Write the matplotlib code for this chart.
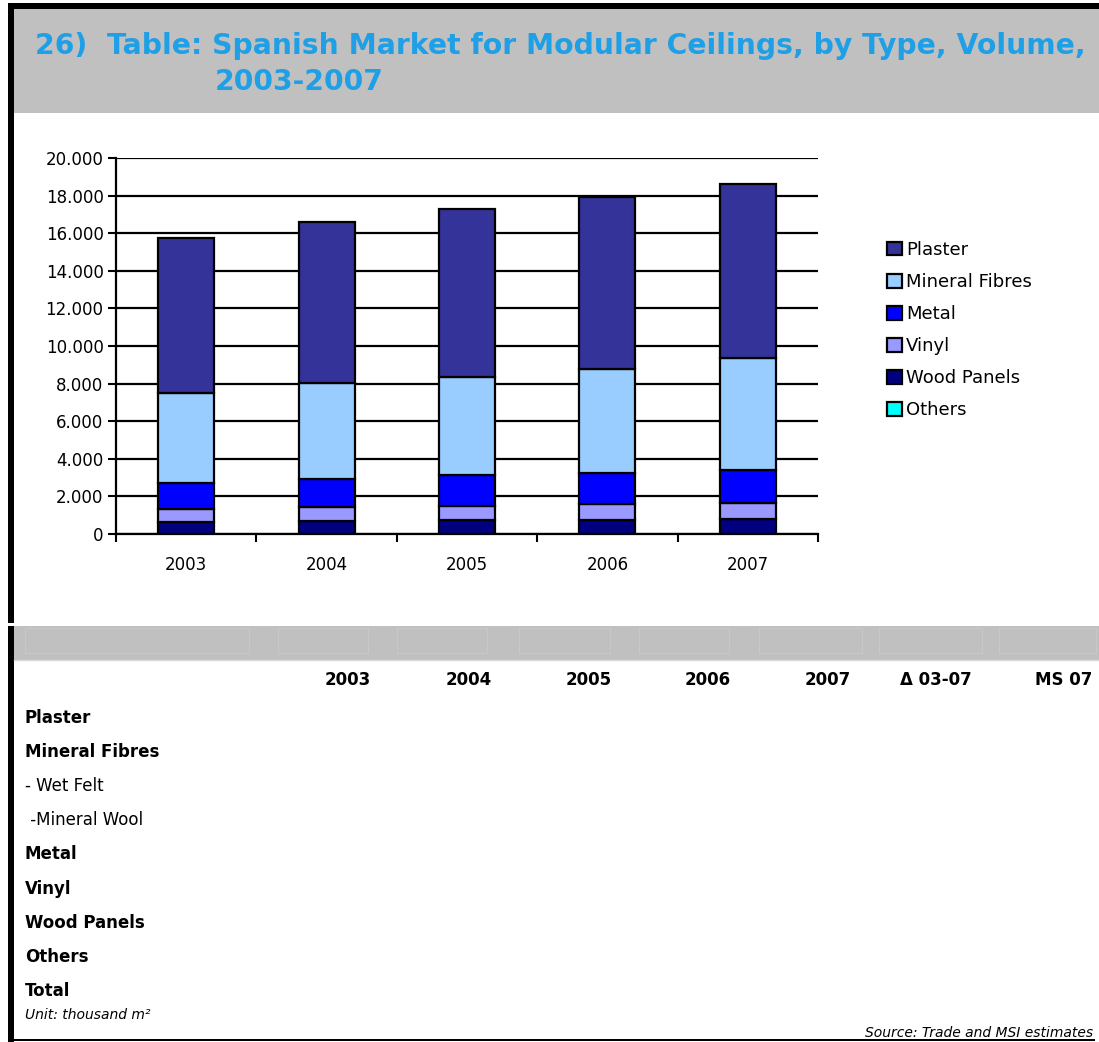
import matplotlib.pyplot as plt
import matplotlib as mpl
from matplotlib.patches import Rectangle
import numpy as np

mpl.rcParams['font.family'] = ['DejaVu Sans']

# data (thousand m2)
years = ['2003', '2004', '2005', '2006', '2007']
others = [0, 0, 0, 0, 0]
wood_panels = [630, 690, 720, 760, 790]
vinyl = [720, 740, 790, 810, 850]
metal = [1350, 1510, 1620, 1690, 1790]
mineral_fibres = [4800, 5090, 5220, 5520, 5930]
plaster = [8230, 8560, 8930, 9170, 9280]

series = [('Others', others, '#00FFFF'),
          ('Wood Panels', wood_panels, '#000080'),
          ('Vinyl', vinyl, '#9999FF'),
          ('Metal', metal, '#0000FF'),
          ('Mineral Fibres', mineral_fibres, '#99CCFF'),
          ('Plaster', plaster, '#333399')]

table_cols = ['2003', '2004', '2005', '2006', '2007', '\u0394 03-07', 'MS 07']
table_rows = ['Plaster', 'Mineral Fibres', '- Wet Felt', ' -Mineral Wool', 'Metal',
              'Vinyl', 'Wood Panels', 'Others', 'Total']
bold_rows = [True, True, False, False, True, True, True, True, True]

W, H = 1099, 1042
fig = plt.figure(figsize=(W / 100, H / 100), dpi=100)

# background layer in pixel coordinates
bg = fig.add_axes([0, 0, 1, 1])
bg.set_xlim(0, W)
bg.set_ylim(H, 0)
bg.axis('off')

bg.add_patch(Rectangle((8, 3), W - 8, 6, color='black', lw=0))
bg.add_patch(Rectangle((8, 3), 6, 620, color='black', lw=0))
bg.add_patch(Rectangle((8, 626), 6, H - 626, color='black', lw=0))
bg.add_patch(Rectangle((8, 1039), 1087, 2, color='black', lw=0))
bg.add_patch(Rectangle((14, 9), W - 14, 104, color='#C0C0C0', lw=0))

title_color = '#1F9FE5'
bg.text(35, 46, '26)  Table: Spanish Market for Modular Ceilings, by Type, Volume,',
        fontsize=20.3, fontweight='bold', color=title_color, va='center', ha='left')
bg.text(215, 82, '2003-2007', fontsize=20.3, fontweight='bold', color=title_color,
        va='center', ha='left')

# table header band
bg.add_patch(Rectangle((14, 626), W - 14, 34, color='#C0C0C0', lw=0))
cell_edges = [25, 252, 278, 371, 397, 490, 519, 613, 639, 732, 759, 865, 879, 985, 999, W]
for i in range(0, len(cell_edges) - 1, 2):
    bg.add_patch(Rectangle((cell_edges[i], 628), cell_edges[i + 1] - cell_edges[i] - 3, 25,
                           fill=False, ec='#CACACA', lw=0.6))
bg.plot([14, W], [660, 660], color='#D8D8D8', lw=1)

col_right = [371, 492, 612, 731, 851, 972, 1092]
for x, c in zip(col_right, table_cols):
    bg.text(x, 680, c, fontsize=12, fontweight='bold', ha='right', va='center')

for i, (r, b) in enumerate(zip(table_rows, bold_rows)):
    bg.text(25, 718 + i * 34.1, r, fontsize=12, fontweight='bold' if b else 'normal',
            ha='left', va='center')

bg.text(25, 1015, 'Unit: thousand m\u00b2', fontsize=10, style='italic', ha='left', va='center')
bg.text(1093, 1033, 'Source: Trade and MSI estimates', fontsize=10, style='italic',
        ha='right', va='center')

# chart
ax = fig.add_axes([116 / W, 1 - 534 / H, (818 - 116) / W, (534 - 158) / H])
x = np.arange(len(years))
bottom = np.zeros(len(years))
handles = {}
for name, vals, col in series:
    vals = np.array(vals, dtype=float)
    h = ax.bar(x, vals, width=0.4, bottom=bottom, color=col, edgecolor='black',
               linewidth=1.6, label=name, zorder=3)
    handles[name] = h
    bottom += vals

ax.set_xlim(-0.5, len(years) - 0.5)
ax.set_ylim(0, 20000)
ax.set_yticks(np.arange(0, 20001, 2000))
ax.set_yticklabels([f'{v:,.0f}'.replace(',', '.') for v in np.arange(0, 20001, 2000)],
                   fontsize=12)
ax.set_xticks(x)
ax.set_xticklabels(years, fontsize=12)
ax.set_xticks(np.arange(-0.5, len(years)), minor=True)
ax.tick_params(axis='x', which='major', length=0, pad=16)
ax.tick_params(axis='x', which='minor', length=6, width=1.5, direction='out')
ax.tick_params(axis='y', length=6, width=1.5, direction='out', pad=3)
ax.yaxis.grid(True, color='black', linewidth=1.6, zorder=0)
ax.set_axisbelow(True)
for s in ['top', 'right']:
    ax.spines[s].set_visible(False)
for s in ['left', 'bottom']:
    ax.spines[s].set_linewidth(1.6)
    ax.spines[s].set_zorder(4)

order = ['Plaster', 'Mineral Fibres', 'Metal', 'Vinyl', 'Wood Panels', 'Others']
leg = fig.legend([handles[n] for n in order], order, loc='center left',
                 bbox_to_anchor=(871 / W, 1 - 330 / H), frameon=False, fontsize=13,
                 handlelength=0.8, handleheight=0.8, handletextpad=0.25, labelspacing=0.78)

fig.savefig('out.png', dpi=100)
